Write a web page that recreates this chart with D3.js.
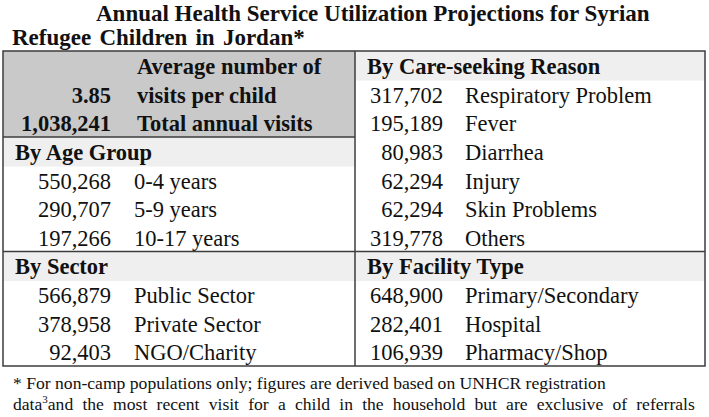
<!DOCTYPE html>
<html><head><meta charset="utf-8">
<script src="https://cdn.jsdelivr.net/npm/d3@7/dist/d3.min.js"></script>
<style>
html,body{margin:0;padding:0;background:#fff;}
svg{display:block;font-family:"Liberation Serif","Times New Roman",serif;}
</style></head>
<body><svg id="chart" width="709" height="417"></svg>
<script>
// ---- data ----
const titleLines = ["Annual Health Service Utilization Projections for Syrian", "Refugee Children in Jordan*"];
const avgVisitsPerChild = 3.85;
const totalAnnualVisits = 1038241;
const summaryLabels = ["Average number of", "visits per child", "Total annual visits"];

const ageGroups = ["0-4 years", "5-9 years", "10-17 years"];
const ageVisits = [550268, 290707, 197266];

const sectors = ["Public Sector", "Private Sector", "NGO/Charity"];
const sectorVisits = [566879, 378958, 92403];

const reasons = ["Respiratory Problem", "Fever", "Diarrhea", "Injury", "Skin Problems", "Others"];
const reasonVisits = [317702, 195189, 80983, 62294, 62294, 319778];

const facilities = ["Primary/Secondary", "Hospital", "Pharmacy/Shop"];
const facilityVisits = [648900, 282401, 106939];

const footnoteLines = ["* For non-camp populations only; figures are derived based on UNHCR registration",
                       "and the most recent visit for a child in the household but are exclusive of referrals"];

// ---- drawing ----
(function () {
const svg = d3.select("#chart");
const fmt = d3.format(",");
const FS = 22.5;
const L0 = 3, MID = 355, R0 = 705, T0 = 51, B0 = 366;
const nRows = 11;
const y = d3.scaleBand().domain(d3.range(nRows)).range([T0, B0]);
const base = i => y(i) + 23;
const x = d3.scaleOrdinal().domain(["L","R"]).range([L0, MID]);
const numRight = {L: 111, R: 443};
const labelX = {L: 134, R: 465};

// title
svg.append("g").selectAll("text").data(titleLines).join("text")
  .attr("x", (d, i) => i === 0 ? 96 : 12)
  .attr("y", (d, i) => i === 0 ? 21 : 45)
  .attr("word-spacing", (d, i) => i === 0 ? 0 : 2.5)
  .attr("font-weight", "bold").attr("font-size", 23).attr("fill", "#111")
  .text(d => d);

// backgrounds
svg.append("rect").attr("x", L0).attr("y", T0).attr("width", MID - L0).attr("height", y(3) - T0)
  .attr("fill", "#c9c9c9");

const sections = [
  {col: "L", title: "By Age Group", start: 3, labels: ageGroups, values: ageVisits},
  {col: "L", title: "By Sector", start: 7, labels: sectors, values: sectorVisits},
  {col: "R", title: "By Care-seeking Reason", start: 0, labels: reasons, values: reasonVisits},
  {col: "R", title: "By Facility Type", start: 7, labels: facilities, values: facilityVisits}
];

const g = svg.append("g");
sections.forEach(s => {
  g.append("rect").attr("x", x(s.col)).attr("y", y(s.start))
    .attr("width", (s.col === "L" ? MID - L0 : R0 - MID)).attr("height", y.bandwidth() + 1)
    .attr("fill", "#efefef");
  g.append("text").attr("x", x(s.col) + 12).attr("y", base(s.start))
    .attr("font-weight", "bold").attr("font-size", FS).attr("fill", "#111").text(s.title);
  g.selectAll(null).data(s.values).join("text")
    .attr("x", numRight[s.col]).attr("y", (d, i) => base(s.start + 1 + i))
    .attr("text-anchor", "end").attr("font-size", FS).attr("fill", "#111")
    .text(d => fmt(d));
  g.selectAll(null).data(s.labels).join("text")
    .attr("x", labelX[s.col]).attr("y", (d, i) => base(s.start + 1 + i))
    .attr("font-size", FS).attr("fill", "#111")
    .text(d => d);
});

// summary block
g.append("text").attr("x", 137).attr("y", base(0)).attr("font-weight", "bold")
  .attr("font-size", FS).attr("fill", "#111").text(summaryLabels[0]);
const summaryVals = [d3.format(".2f")(avgVisitsPerChild), fmt(totalAnnualVisits)];
g.selectAll(null).data(summaryVals).join("text")
  .attr("x", numRight.L).attr("y", (d, i) => base(1 + i)).attr("text-anchor", "end")
  .attr("font-weight", "bold").attr("font-size", FS).attr("fill", "#111").text(d => d);
g.selectAll(null).data(summaryLabels.slice(1)).join("text")
  .attr("x", 137).attr("y", (d, i) => base(1 + i))
  .attr("font-weight", "bold").attr("font-size", FS).attr("fill", "#111").text(d => d);

// grid lines
const lc = "#3c3c3c", lw = 1.5;
const lines = svg.append("g").attr("stroke", lc).attr("stroke-width", lw).attr("fill", "none");
lines.append("rect").attr("x", L0).attr("y", T0).attr("width", R0 - L0).attr("height", B0 - T0);
lines.append("line").attr("x1", MID).attr("x2", MID).attr("y1", T0).attr("y2", B0);
lines.append("line").attr("x1", L0).attr("x2", MID).attr("y1", y(3)).attr("y2", y(3));
lines.append("line").attr("x1", L0).attr("x2", R0).attr("y1", y(7)).attr("y2", y(7));

// footnote
const fn = svg.append("g").attr("font-size", 17.6).attr("fill", "#111");
fn.append("text").attr("x", 13).attr("y", 389).text(footnoteLines[0]);
const t2 = fn.append("text").attr("x", 13).attr("y", 410).attr("word-spacing", 4.8);
t2.append("tspan").text("data");
t2.append("tspan").attr("font-size", 11).attr("dy", -7).text("3");
t2.append("tspan").attr("dy", 7).text(footnoteLines[1]);
})();
</script></body></html>
